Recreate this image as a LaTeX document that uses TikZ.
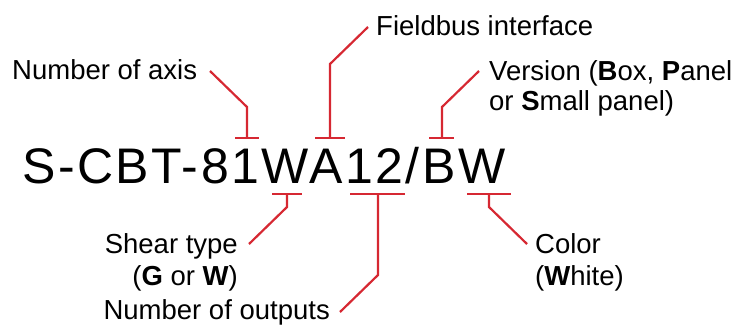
\documentclass[tikz,border=0pt]{standalone}
\usepackage{fontspec}
\setmainfont{Liberation Sans}
\newfontfamily\codefont[LetterSpace=5]{Liberation Sans}
\definecolor{brred}{RGB}{214,40,50}
\begin{document}
\begin{tikzpicture}[x=1pt,y=-1pt,
  lbl/.style={font=\fontsize{27.5}{31}\selectfont, inner sep=0pt},
  lead/.style={draw=brred, line width=2.2pt}]
\useasboundingbox (0,0) rectangle (733,325);
\node[anchor=base west, inner sep=0pt, font=\codefont\fontsize{50}{60}\selectfont] (code) at (22,183) {S-CBT-81WA12/BW};
% labels
\node[lbl, anchor=base west] (axis) at (12,79) {Number of axis};
\node[lbl, anchor=base west] (field) at (376,35) {Fieldbus interface};
\node[lbl, anchor=base west] (verA) at (489,80) {Version (\textbf{B}ox, \textbf{P}anel};
\node[lbl, anchor=base west] (verB) at (489,110) {or \textbf{S}mall panel)};
\node[lbl, anchor=base east] (shearA) at (238,253) {Shear type};
\node[lbl, anchor=base east] (shearB) at (238,285) {(\textbf{G} or \textbf{W})};
\node[lbl, anchor=base east] (outs) at (330,319) {Number of outputs};
\node[lbl, anchor=base west] (colA) at (535,253) {Color};
\node[lbl, anchor=base west] (colB) at (535,285) {(\textbf{W}hite)};
% bracket points
\coordinate (axL) at (235,138); \coordinate (axR) at (259,138); \coordinate (axM) at (247,138);
\coordinate (axK) at (247,107); \coordinate (axE) at (210,71);
\coordinate (fbL) at (315,138); \coordinate (fbR) at (345,138); \coordinate (fbM) at (330,138);
\coordinate (fbK) at (330,64); \coordinate (fbE) at (368,27);
\coordinate (vrL) at (429,138); \coordinate (vrR) at (454,138); \coordinate (vrM) at (442,138);
\coordinate (vrK) at (442,107); \coordinate (vrE) at (479,71);
\coordinate (shL) at (272,194); \coordinate (shR) at (302,194); \coordinate (shM) at (287,194);
\coordinate (shK) at (287,207); \coordinate (shE) at (249,244);
\coordinate (otL) at (350,194); \coordinate (otR) at (405,194); \coordinate (otM) at (378,194);
\coordinate (otK) at (378,275); \coordinate (otE) at (340,312);
\coordinate (coL) at (467,194); \coordinate (coR) at (511,194); \coordinate (coM) at (489,194);
\coordinate (coK) at (489,207); \coordinate (coE) at (527,244);
% connectors
\foreach \p in {ax,fb,vr,sh,ot,co}{
  \draw[lead] (\p L) -- (\p R);
  \draw[lead] (\p M) -- (\p K) -- (\p E);
}
\end{tikzpicture}
\end{document}
